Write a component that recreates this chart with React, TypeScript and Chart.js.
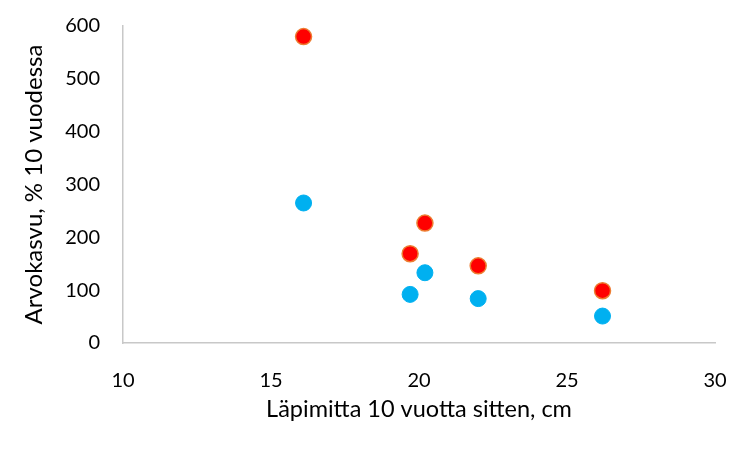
import React, { useEffect, useRef } from "react";
import { Chart, registerables } from "chart.js";

Chart.register(...registerables);

const diameters = [16.1, 19.7, 20.2, 22.0, 26.2];
const redValues = [580, 169, 227, 146, 99];
const blueValues = [265, 92, 133, 84, 51];
const xTitle = "Läpimitta 10 vuotta sitten, cm";
const yTitle = "Arvokasvu, % 10 vuodessa";

const FONT = "Lato, 'Open Sans', sans-serif";

export default function App() {
  const ref = useRef<HTMLCanvasElement | null>(null);
  useEffect(() => {
    document.body.style.margin = "0";
    const ctx = ref.current!;
    const chart = new Chart(ctx, {
      type: "scatter",
      data: {
        datasets: [
          {
            label: "red",
            data: diameters.map((x, i) => ({ x, y: redValues[i] })),
            backgroundColor: "#FF0000",
            borderColor: "#ED7D31",
            borderWidth: 1.5,
            pointRadius: 8,
          },
          {
            label: "blue",
            data: diameters.map((x, i) => ({ x, y: blueValues[i] })),
            backgroundColor: "#00B0F0",
            borderColor: "#00B0F0",
            borderWidth: 1,
            pointRadius: 8,
          },
        ],
      },
      options: {
        animation: false,
        responsive: false,
        layout: { padding: { top: 26, right: 36, left: 20, bottom: 30 } },
        plugins: { legend: { display: false }, tooltip: { enabled: false } },
        scales: {
          x: {
            type: "linear",
            min: 10,
            max: 30,
            ticks: { stepSize: 5, padding: 26, color: "#000", font: { family: FONT, size: 20 } },
            grid: { display: false, drawTicks: false },
            border: { display: true, color: "#C8C8C8", width: 1.5 },
            title: { display: true, text: xTitle, color: "#000", padding: 0, font: { family: FONT, size: 23.5 } },
            afterFit: (s: any) => { s.height = 81; s.paddingLeft = 0; s.paddingRight = 0; },
          },
          y: {
            type: "linear",
            min: 0,
            max: 600,
            ticks: { stepSize: 100, padding: 23, color: "#000", font: { family: FONT, size: 20 } },
            grid: { display: false, drawTicks: false },
            border: { display: true, color: "#C8C8C8", width: 1.5 },
            title: { display: true, text: yTitle, color: "#000", padding: 0, font: { family: FONT, size: 24 } },
            afterFit: (s: any) => { s.width = 103; s.paddingTop = 0; s.paddingBottom = 0; },
          },
        },
      },
    });
    return () => chart.destroy();
  }, []);
  return <canvas ref={ref} width={751} height={454} />;
}
